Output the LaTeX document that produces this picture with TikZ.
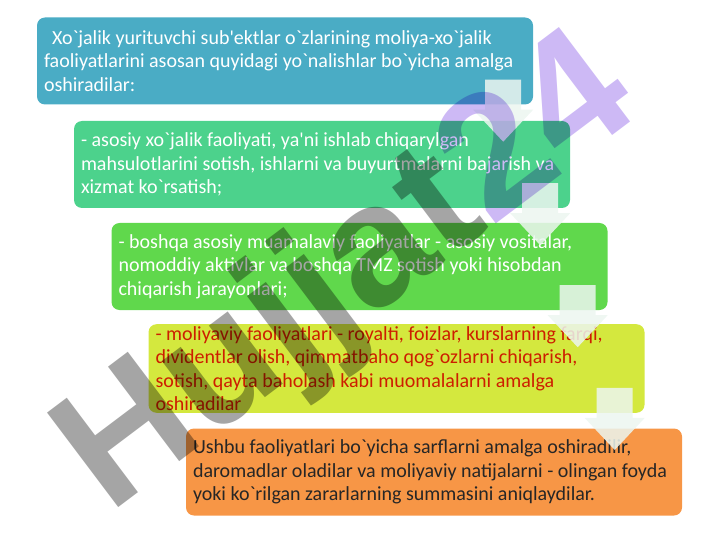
\documentclass[tikz,border=0pt]{standalone}
\usepackage{fontspec}
\setmainfont{Carlito}[Ligatures=TeXOff]
\newfontfamily\wmfont{Liberation Sans}[Ligatures=TeXOff]
\usetikzlibrary{positioning}
\definecolor{caja1}{RGB}{74,172,197}
\definecolor{caja2}{RGB}{76,210,140}
\definecolor{caja3}{RGB}{96,216,76}
\definecolor{caja4}{RGB}{212,232,62}
\definecolor{caja5}{RGB}{247,150,70}
\definecolor{rojo}{RGB}{205,30,0}
\definecolor{oscuro}{RGB}{38,38,38}
\definecolor{flecha}{RGB}{236,246,240}
\definecolor{wmgris}{RGB}{165,165,165}
\definecolor{wmlila}{RGB}{205,185,245}
\begin{document}
\begin{tikzpicture}[x=1pt,y=-1pt,
  stepbox/.style={rounded corners=8pt, minimum width=496pt, minimum height=87pt,
    text width=482pt, inner xsep=7pt, inner ysep=2pt, align=flush left,
    font=\fontsize{20}{23.5}\selectfont},
  arrowfill/.style={fill=flecha, fill opacity=0.85},
  downarr/.pic={\fill[arrowfill] (-18,0) -- (18,0) -- (18,30) -- (30,30) -- (0,62) -- (-30,30) -- (-18,30) -- cycle;},
  watermark/.style={font=\wmfont\bfseries\fontsize{172}{172}\selectfont, inner sep=0pt}]
\useasboundingbox (0,0) rectangle (720,540);
% Cajas
\node[stepbox, fill=caja1, text=white] (b1) at (285,61)
  {\hspace*{8pt}Xo`jalik yurituvchi sub'ektlar o`zlarining moliya-xo`jalik\\
   faoliyatlarini asosan quyidagi yo`nalishlar bo`yicha amalga\\
   oshiradilar:};
\node[stepbox, fill=caja2, text=white] (b2) at (322,164.5)
  {- asosiy xo`jalik faoliyati, ya'ni ishlab chiqarylgan\\
   mahsulotlarini sotish, ishlarni va buyurtmalarni bajarish va\\
   xizmat ko`rsatish;};
\node[stepbox, fill=caja3, text=white] (b3) at (359.5,266.5)
  {- boshqa asosiy muamalaviy faoliyatlar - asosiy vositalar,\\
   nomoddiy aktivlar va boshqa TMZ sotish yoki hisobdan\\
   chiqarish jarayonlari;};
\node[stepbox, fill=caja4, text=rojo] (b4) at (396.5,368.5)
  {- moliyaviy faoliyatlari - royalti, foizlar, kurslarning farqi,\\
   dividentlar olish, qimmatbaho qog`ozlarni chiqarish,\\
   sotish, qayta baholash kabi muomalalarni amalga\\
   oshiradilar};
\node[stepbox, fill=caja5, text=oscuro] (b5) at (434,472)
  {Ushbu faoliyatlari bo`yicha sarflarni amalga oshiradilir,\\
   daromadlar oladilar va moliyaviy natijalarni - olingan foyda\\
   yoki ko`rilgan zararlarning summasini aniqlaydilar.};
% Flechas
\pic at ([xshift=-30pt,yshift=25pt]b1.south east) {downarr};
\pic at ([xshift=-30pt,yshift=25pt]b2.south east) {downarr};
\pic at ([xshift=-30pt,yshift=25pt]b3.south east) {downarr};
\pic at ([xshift=-30pt,yshift=25pt]b4.south east) {downarr};
% Marca de agua
\begin{scope}[blend mode=multiply]
\node[watermark, rotate=37] (wm) at (350,278)
  {\textcolor{wmgris}{Hujjat}\textcolor{wmlila}{24}};
\end{scope}
\end{tikzpicture}
\end{document}
